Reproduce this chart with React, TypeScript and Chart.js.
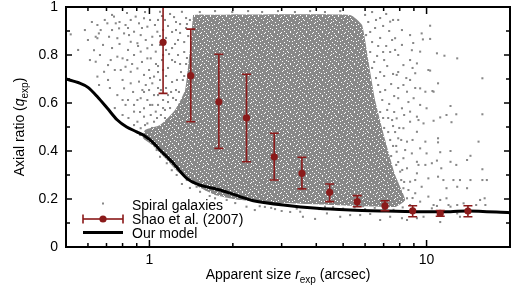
import React, { useEffect, useRef } from 'react';
import { Chart, registerables } from 'chart.js';

Chart.register(...registerables);

const FONT = '"Liberation Sans", Arial, Helvetica, sans-serif';
const GRAY = 'rgb(136,136,136)';
const RED = '#8a1a1a';

// Shao et al. (2007) binned data
const shaoSize = [1.12, 1.41, 1.78, 2.24, 2.82, 3.55, 4.47, 5.62, 7.08, 8.91, 11.2, 14.1];
const shaoRatio = [0.853, 0.714, 0.605, 0.538, 0.376, 0.307, 0.228, 0.189, 0.171, 0.151, 0.14, 0.15];
const shaoHigh = [1.06, 0.908, 0.803, 0.72, 0.474, 0.374, 0.2625, 0.214, 0.193, 0.172, 0.152, 0.172];
const shaoLow = [0.64, 0.522, 0.411, 0.355, 0.279, 0.242, 0.189, 0.168, 0.151, 0.126, 0.128, 0.126];

// Our model curve
const modelSize = [0.5, 0.56, 0.6, 0.649, 0.705, 0.766, 0.828, 0.9, 0.956, 1.02, 1.1, 1.22, 1.364, 1.523, 1.8, 2.12, 2.37, 3.04, 4.02, 5.3, 6.98, 9.23, 12.2, 14.0, 20.0];
const modelRatio = [0.7, 0.683, 0.665, 0.626, 0.578, 0.529, 0.5, 0.48, 0.465, 0.44, 0.4, 0.349, 0.286, 0.258, 0.2375, 0.21, 0.193, 0.175, 0.161, 0.154, 0.15, 0.147, 0.147, 0.15, 0.143];

// Outline of the saturated core of the spiral-galaxy cloud
const cloudCoreSize = [1.437, 5.3, 5.85, 6.16, 6.52, 7.09, 7.7, 8.37, 7.7, 4.49, 2.96, 2.12, 1.725, 1.46, 1.268, 1.138, 1.022, 0.948, 0.964, 1.092, 1.237, 1.345, 1.4];
const cloudCoreRatio = [0.967, 0.967, 0.925, 0.779, 0.6125, 0.446, 0.3, 0.196, 0.167, 0.175, 0.183, 0.196, 0.217, 0.258, 0.3125, 0.371, 0.425, 0.454, 0.4875, 0.508, 0.571, 0.654, 0.821];

// Individually visible spiral galaxies outside the saturated core [size, ratio]
const spiralPoints: [number, number][] = [
  [0.52, 0.886], [0.649, 0.925], [0.64, 0.876], [0.657, 0.89], [0.667, 0.904], [0.705, 0.932], [0.745, 0.96], [0.756, 0.932],
  [0.777, 0.911], [0.82, 0.925], [0.856, 0.946], [0.892, 0.96], [0.917, 0.932], [0.956, 0.953], [0.983, 0.918], [0.81, 0.89],
  [0.844, 0.883], [0.88, 0.897], [0.93, 0.883], [0.766, 0.87], [0.856, 0.855], [0.905, 0.849], [0.97, 0.8625], [1.024, 0.876],
  [1.068, 0.897], [0.649, 0.87], [0.715, 0.876], [0.631, 0.82], [0.766, 0.793], [0.8, 0.786], [0.832, 0.779], [0.725, 0.779],
  [0.88, 0.8], [0.93, 0.814], [0.983, 0.828], [1.011, 0.786], [1.054, 0.814], [0.64, 0.772], [0.788, 0.7375], [0.82, 0.751],
  [0.856, 0.73], [0.905, 0.744], [0.956, 0.717], [0.997, 0.7375], [1.039, 0.71], [0.649, 0.71], [0.686, 0.73], [0.658, 0.675],
  [0.8, 0.696], [0.856, 0.682], [0.917, 0.689], [0.97, 0.675], [1.024, 0.682], [0.81, 0.661], [0.943, 0.654], [0.997, 0.654],
  [1.039, 0.633], [0.983, 0.6125], [0.93, 0.62], [0.82, 0.592], [0.88, 0.592], [0.956, 0.578], [1.024, 0.592], [0.8, 0.55],
  [0.88, 0.564], [0.956, 0.543], [1.011, 0.55], [1.054, 0.564], [0.905, 0.522], [0.983, 0.515], [1.039, 0.522], [0.93, 0.495],
  [0.997, 0.4875], [1.054, 0.495],
  [0.69, 0.946], [0.733, 0.904], [0.78, 0.9375], [0.837, 0.9125], [0.94, 0.9125], [1.005, 0.946], [1.047, 0.925], [0.68, 0.842],
  [0.733, 0.829], [0.78, 0.846], [0.837, 0.821], [0.91, 0.8375], [1.022, 0.842], [0.709, 0.758], [0.75, 0.7375], [0.866, 0.7625],
  [0.94, 0.771], [1.074, 0.754], [0.72, 0.6625], [0.766, 0.633], [0.873, 0.646], [0.905, 0.6125], [1.074, 0.6625], [0.75, 0.579],
  [0.837, 0.6125], [0.925, 0.5625], [1.074, 0.592], [0.84, 0.5375], [0.88, 0.508], [0.964, 0.508], [1.022, 0.496], [0.6, 0.8625],
  [0.61, 0.779], [0.585, 0.904], [0.553, 0.821], [0.663, 0.8], [0.62, 0.9375], [0.733, 0.967], [0.83, 0.975], [0.964, 0.979],
  [0.983, 0.786], [1.005, 0.704], [0.956, 0.646], [1.005, 0.592], [0.8, 0.6125], [0.709, 0.696],
  [1.092, 0.98], [1.138, 0.946], [1.187, 0.971], [1.247, 0.9375], [1.31, 0.98], [1.356, 0.9125], [1.092, 0.842], [1.148, 0.871],
  [1.207, 0.829], [1.268, 0.8625], [1.335, 0.8125], [1.38, 0.879], [1.11, 0.779], [1.167, 0.746], [1.237, 0.771], [1.3, 0.729],
  [1.356, 0.7625], [1.092, 0.696], [1.148, 0.6625], [1.207, 0.6875], [1.278, 0.646], [1.335, 0.6125], [1.12, 0.6125], [1.187, 0.579],
  [1.074, 0.633], [1.1, 0.55], [1.158, 0.529], [1.217, 0.621], [1.4, 0.946], [1.247, 0.904], [1.12, 0.904], [1.177, 0.804],
  [1.056, 0.7625], [1.074, 0.946], [1.12, 0.7375], [1.268, 0.8], [1.32, 0.696], [1.197, 0.646], [1.247, 0.6125], [1.138, 0.571],
  [1.29, 0.929], [1.356, 0.954], [1.207, 0.896], [1.074, 0.729], [1.148, 0.821], [1.167, 0.604],
  [1.11, 0.9625], [1.167, 0.921], [1.227, 0.958], [1.29, 0.892], [1.366, 0.929], [1.092, 0.879], [1.237, 0.846], [1.335, 0.854],
  [1.12, 0.8], [1.207, 0.779], [1.29, 0.7625], [1.366, 0.7875], [1.148, 0.7125], [1.257, 0.696], [1.335, 0.7125], [1.1, 0.654],
  [1.167, 0.633], [1.247, 0.654], [1.12, 0.579], [1.065, 0.5375], [1.138, 0.5375],
  [1.155, 0.349], [1.204, 0.32], [1.254, 0.3], [1.364, 0.279], [1.48, 0.251], [1.523, 0.23], [1.61, 0.2375], [1.092, 0.376],
  [1.062, 0.404], [0.964, 0.453], [0.925, 0.467], [2.4, 0.154], [2.24, 0.168], [1.9, 0.196], [1.725, 0.203], [1.4, 0.246],
  [1.31, 0.2625], [1.65, 0.2125], [2.04, 0.183], [2.61, 0.167], [3.22, 0.146], [2.84, 0.158],
  [3.0, 0.15], [3.5, 0.147], [4.37, 0.14], [5.3, 0.133], [4.88, 0.126], [5.76, 0.133], [6.26, 0.1375], [7.39, 0.126],
  [8.15, 0.12], [8.5, 0.1125], [9.23, 0.12], [9.75, 0.126], [10.45, 0.161], [10.9, 0.171], [12.2, 0.168], [12.9, 0.14],
  [13.6, 0.182], [15.6, 0.196], [16.3, 0.175], [3.58, 0.126], [3.96, 0.117], [6.8, 0.1125], [11.2, 0.104],
  [2.5, 0.17], [2.75, 0.163], [3.2, 0.172], [3.7, 0.165], [4.1, 0.158], [4.6, 0.166], [5.0, 0.16], [5.5, 0.165],
  [6.0, 0.158], [6.5, 0.163], [7.0, 0.16], [7.6, 0.155], [8.2, 0.165], [8.8, 0.158], [3.4, 0.16], [4.3, 0.168],
  [5.9, 0.17], [7.3, 0.17],
  [10.3, 0.922], [9.6, 0.89], [9.7, 0.865], [10.3, 0.867], [10.9, 0.807], [11.6, 0.797], [12.9, 0.786], [10.3, 0.735],
  [11.0, 0.682], [15.9, 0.703], [10.5, 0.65], [12.2, 0.5875], [12.8, 0.553], [11.8, 0.55], [11.2, 0.54], [12.3, 0.52],
  [15.9, 0.553], [10.6, 0.526], [11.0, 0.453], [11.0, 0.436], [15.4, 0.439], [12.2, 0.4], [11.2, 0.395], [14.4, 0.38],
  [14.0, 0.3625], [10.9, 0.36], [12.2, 0.355], [12.8, 0.342], [11.3, 0.328], [10.45, 0.349], [15.9, 0.324], [11.0, 0.293],
  [11.5, 0.279], [12.5, 0.279], [13.2, 0.279], [14.4, 0.279], [15.9, 0.279], [16.5, 0.279], [12.9, 0.251], [11.8, 0.245],
  [14.0, 0.245], [16.2, 0.203], [11.8, 0.203], [11.2, 0.196], [12.9, 0.175], [12.0, 0.175], [15.1, 0.175], [13.2, 0.126],
  [8.72, 0.883], [8.95, 0.85], [8.85, 0.82], [9.48, 0.814], [8.72, 0.779], [9.23, 0.765], [9.1, 0.724], [10.15, 0.7375],
  [8.72, 0.696], [9.48, 0.661], [9.9, 0.647], [10.6, 0.647], [8.5, 0.647], [8.98, 0.62], [9.48, 0.592], [10.0, 0.578],
  [8.72, 0.564], [9.23, 0.543], [9.75, 0.515], [8.72, 0.522], [8.25, 0.495], [9.23, 0.48], [9.9, 0.439], [8.5, 0.439],
  [9.48, 0.411], [8.85, 0.39], [10.0, 0.39], [8.25, 0.37], [9.23, 0.355], [9.9, 0.342], [8.5, 0.328], [9.23, 0.307],
  [10.15, 0.286], [8.72, 0.272], [9.6, 0.251], [8.25, 0.245], [9.1, 0.224], [10.15, 0.21], [8.5, 0.203], [9.48, 0.189],
  [10.6, 0.175], [8.72, 0.175], [7.9, 0.946], [7.39, 0.939], [8.15, 0.904], [7.7, 0.87], [8.15, 0.842], [7.9, 0.8],
  [8.25, 0.758], [7.8, 0.717], [8.25, 0.675], [7.9, 0.62], [8.15, 0.578], [7.8, 0.536], [7.9, 0.453], [7.8, 0.397],
  [8.03, 0.314], [7.8, 0.272],
  [6.0, 0.967], [6.36, 0.979], [6.8, 0.954], [7.15, 0.971], [6.16, 0.9375], [6.52, 0.9125], [6.97, 0.921], [7.33, 0.9],
  [6.05, 0.883], [6.36, 0.854], [6.8, 0.871], [7.15, 0.8375], [7.51, 0.8625], [6.26, 0.8125], [6.63, 0.796], [7.03, 0.779],
  [7.39, 0.8125], [6.36, 0.746], [6.8, 0.729], [7.21, 0.754], [7.57, 0.721], [6.69, 0.675], [7.09, 0.654], [7.45, 0.679],
  [6.92, 0.6125], [7.33, 0.596], [7.64, 0.629], [6.8, 0.5625], [7.27, 0.5375], [7.57, 0.504], [7.03, 0.496], [7.39, 0.446],
  [7.77, 0.421], [7.45, 0.379], [7.9, 0.354], [7.7, 0.479], [8.3, 0.271],
  [6.57, 0.946], [7.57, 0.946], [6.26, 0.896], [6.69, 0.8375], [7.7, 0.821], [6.47, 0.771], [6.97, 0.8125], [6.57, 0.704],
  [7.03, 0.7125], [7.9, 0.729], [6.8, 0.646], [7.9, 0.6625], [7.21, 0.571], [7.64, 0.5625], [6.97, 0.5375], [7.51, 0.529],
  [7.27, 0.479], [7.97, 0.496], [7.57, 0.421], [8.1, 0.446], [7.77, 0.342], [8.17, 0.321], [8.1, 0.279], [8.6, 0.2375],
  [8.9, 0.204], [8.37, 0.404], [8.3, 0.55], [8.6, 0.604], [8.45, 0.704], [8.9, 0.746], [9.1, 0.6625], [9.35, 0.529],
  [8.9, 0.446], [9.35, 0.342], [9.1, 0.279],
  [1.52, 0.979], [1.725, 0.983], [1.99, 0.979], [2.27, 0.983], [2.55, 0.979], [2.91, 0.983], [3.35, 0.979], [3.8, 0.983],
  [4.3, 0.979], [4.88, 0.983],
];

const yTickValues = [0, 0.1, 0.2, 0.3, 0.4, 0.5, 0.6, 0.7, 0.8, 0.9, 1];
const xMajorTicks = [1, 10];
const xMinorTicks = [0.6, 0.7, 0.8, 0.9, 2, 3, 4, 5, 6, 7, 8, 9];

// speckle texture tile (16x16) for the saturated part of the cloud: white pixel offsets
const SPECKLE: [number, number][] = [
  [2, 0], [9, 0], [14, 1], [5, 2], [11, 3], [0, 4], [7, 4], [13, 5], [3, 6], [10, 7], [15, 8], [6, 8], [1, 9],
  [12, 10], [8, 11], [4, 12], [14, 12], [0, 13], [10, 13], [6, 14], [2, 15], [12, 15], [8, 1], [4, 9], [11, 6], [15, 3],
];

type Part = { t: string; it?: boolean; sub?: boolean };
const xTitle: Part[] = [{ t: 'Apparent size ' }, { t: 'r', it: true }, { t: 'exp', sub: true }, { t: ' (arcsec)' }];
const yTitle: Part[] = [{ t: 'Axial ratio (' }, { t: 'q', it: true }, { t: 'exp', sub: true }, { t: ')' }];

function partFont(p: Part) {
  return `${p.it ? 'italic ' : ''}${p.sub ? 10 : 14}px ${FONT}`;
}
function measureParts(ctx: CanvasRenderingContext2D, parts: Part[]) {
  let w = 0;
  for (const p of parts) {
    ctx.font = partFont(p);
    w += ctx.measureText(p.t).width;
  }
  return w;
}
function drawParts(ctx: CanvasRenderingContext2D, parts: Part[], x0: number, base: number) {
  let x = x0;
  ctx.textAlign = 'left';
  ctx.textBaseline = 'alphabetic';
  for (const p of parts) {
    ctx.font = partFont(p);
    ctx.fillText(p.t, x, base + (p.sub ? 4 : 0));
    x += ctx.measureText(p.t).width;
  }
}

function makeSpeckle(): CanvasPattern | string {
  const tile = document.createElement('canvas');
  tile.width = 16;
  tile.height = 16;
  const c = tile.getContext('2d');
  if (!c) return 'rgb(150,150,150)';
  c.fillStyle = GRAY;
  c.fillRect(0, 0, 16, 16);
  c.fillStyle = '#fff';
  for (const [x, y] of SPECKLE) c.fillRect(x, y, 1, 1);
  const pat = c.createPattern(tile, 'repeat');
  return pat || 'rgb(150,150,150)';
}

const decorPlugin = {
  id: 'decor',
  beforeDatasetDraw(chart: any, args: any) {
    if (args.index !== 0) return;
    const { ctx, chartArea: a } = chart;
    const xs = chart.scales.x;
    const ys = chart.scales.y;
    ctx.save();
    ctx.beginPath();
    ctx.rect(a.left, a.top, a.right - a.left, a.bottom - a.top);
    ctx.clip();
    ctx.strokeStyle = RED;
    ctx.lineWidth = 1.6;
    ctx.beginPath();
    for (let i = 0; i < shaoSize.length; i++) {
      const px = xs.getPixelForValue(shaoSize[i]);
      const hi = ys.getPixelForValue(shaoHigh[i]);
      const lo = ys.getPixelForValue(shaoLow[i]);
      ctx.moveTo(px, hi);
      ctx.lineTo(px, lo);
      ctx.moveTo(px - 4.5, hi);
      ctx.lineTo(px + 4.5, hi);
      ctx.moveTo(px - 4.5, lo);
      ctx.lineTo(px + 4.5, lo);
    }
    ctx.stroke();
    ctx.restore();
  },
  afterDraw(chart: any) {
    const { ctx, chartArea: a } = chart;
    const xs = chart.scales.x;
    const ys = chart.scales.y;
    const L = a.left;
    const R = a.right;
    const T = a.top;
    const B = a.bottom;
    ctx.save();
    // axis titles
    ctx.fillStyle = '#000';
    const wx = measureParts(ctx, xTitle);
    drawParts(ctx, xTitle, (L + R) / 2 - wx / 2, 279);
    const wy = measureParts(ctx, yTitle);
    ctx.save();
    ctx.translate(24, (T + B) / 2);
    ctx.rotate(-Math.PI / 2);
    drawParts(ctx, yTitle, -wy / 2, 0);
    ctx.restore();

    // frame + inward ticks
    ctx.fillStyle = '#000';
    ctx.fillRect(L - 1, T - 1, R - L + 2, 2);
    ctx.fillRect(L - 1, B - 1, R - L + 2, 2);
    ctx.fillRect(L - 1, T - 1, 2, B - T + 2);
    ctx.fillRect(R - 1, T - 1, 2, B - T + 2);
    for (let i = 0; i < yTickValues.length; i++) {
      const py = ys.getPixelForValue(yTickValues[i]);
      const len = i % 2 === 0 ? 6 : 4;
      ctx.fillRect(L, py - 0.75, len, 1.5);
      ctx.fillRect(R - len, py - 0.75, len, 1.5);
    }
    for (const v of xMajorTicks) {
      const px = xs.getPixelForValue(v);
      ctx.fillRect(px - 0.75, B - 7, 1.5, 7);
      ctx.fillRect(px - 0.75, T, 1.5, 7);
    }
    for (const v of xMinorTicks) {
      const px = xs.getPixelForValue(v);
      ctx.fillRect(px - 0.75, B - 4, 1.5, 4);
      ctx.fillRect(px - 0.75, T, 1.5, 4);
    }

    // legend
    const ds = chart.data.datasets;
    const lx0 = L + 17;
    const lx1 = L + 57;
    const tx = L + 66;
    ctx.font = `14px ${FONT}`;
    ctx.textAlign = 'left';
    ctx.textBaseline = 'alphabetic';
    ctx.fillStyle = GRAY;
    ctx.fillRect((lx0 + lx1) / 2 - 1, B - 44.5, 2, 2);
    ctx.fillStyle = '#000';
    ctx.fillText(ds[2].label, tx, B - 37.5);
    const y2 = B - 28;
    ctx.fillStyle = RED;
    ctx.fillRect(lx0, y2 - 0.8, lx1 - lx0, 1.6);
    ctx.fillRect(lx0 - 0.8, y2 - 4.5, 1.6, 9);
    ctx.fillRect(lx1 - 0.8, y2 - 4.5, 1.6, 9);
    ctx.beginPath();
    ctx.arc((lx0 + lx1) / 2, y2, 3.6, 0, Math.PI * 2);
    ctx.fill();
    ctx.fillStyle = '#000';
    ctx.fillText(ds[0].label, tx, B - 23.5);
    const y3 = B - 14.5;
    ctx.fillRect(lx0, y3 - 1.5, lx1 - lx0, 3);
    ctx.fillText(ds[1].label, tx, B - 9.5);
    ctx.restore();
  },
};

export default function App() {
  const ref = useRef<HTMLCanvasElement | null>(null);
  useEffect(() => {
    document.body.style.margin = '0';
    const canvas = ref.current;
    if (!canvas) return;
    const coreFill = makeSpeckle();
    const chart = new Chart(canvas, {
      type: 'scatter',
      data: {
        datasets: [
          {
            label: 'Shao et al. (2007)',
            type: 'scatter',
            data: shaoSize.map((x, i) => ({ x, y: shaoRatio[i] })),
            pointRadius: 3.6,
            pointBackgroundColor: RED,
            pointBorderWidth: 0,
            backgroundColor: RED,
            borderColor: RED,
          },
          {
            label: 'Our model',
            type: 'line',
            data: modelSize.map((x, i) => ({ x, y: modelRatio[i] })),
            borderColor: '#000',
            borderWidth: 3,
            pointRadius: 0,
            tension: 0.3,
            fill: false,
          },
          {
            label: 'Spiral galaxies',
            type: 'scatter',
            data: spiralPoints.map(([x, y]) => ({ x, y })),
            pointRadius: 1.45,
            pointStyle: 'rect',
            pointBackgroundColor: GRAY,
            pointBorderWidth: 0,
            backgroundColor: GRAY,
            borderColor: GRAY,
          },
          {
            label: 'Spiral galaxies (dense core)',
            type: 'line',
            data: cloudCoreSize.map((x, i) => ({ x, y: cloudCoreRatio[i] })),
            borderWidth: 0,
            borderColor: GRAY,
            backgroundColor: coreFill,
            pointRadius: 0,
            tension: 0.15,
            fill: 'shape',
          },
        ],
      } as any,
      options: {
        responsive: false,
        animation: false,
        events: [],
        layout: { padding: { top: 7, right: 6, left: 0, bottom: 0 } },
        plugins: { legend: { display: false }, tooltip: { enabled: false } },
        scales: {
          x: {
            type: 'logarithmic',
            min: 0.5,
            max: 20,
            grid: { display: false, drawTicks: false },
            border: { display: false },
            afterFit: (s: any) => {
              s.height = 46;
              s.paddingLeft = 0;
              s.paddingRight = 0;
            },
            ticks: {
              autoSkip: false,
              maxRotation: 0,
              padding: 5,
              color: '#000',
              font: { family: FONT, size: 14 },
              callback: (v: any) => {
                const l = Math.log10(Number(v));
                return Math.abs(l - Math.round(l)) < 1e-6 && (Math.round(l) === 0 || Math.round(l) === 1) ? String(Math.round(Math.pow(10, l))) : '';
              },
            },
          },
          y: {
            type: 'linear',
            min: 0,
            max: 1,
            grid: { display: false, drawTicks: false },
            border: { display: false },
            afterFit: (s: any) => {
              s.width = 66;
              s.paddingTop = 0;
              s.paddingBottom = 0;
            },
            ticks: {
              stepSize: 0.2,
              padding: 8,
              color: '#000',
              font: { family: FONT, size: 14 },
              callback: (v: any) => String(Math.round(Number(v) * 10) / 10),
            },
          },
        },
      } as any,
      plugins: [decorPlugin],
    });
    return () => chart.destroy();
  }, []);
  return (
    <div style={{ width: 516, height: 293 }}>
      <canvas ref={ref} width={516} height={293} style={{ display: 'block' }} />
    </div>
  );
}
